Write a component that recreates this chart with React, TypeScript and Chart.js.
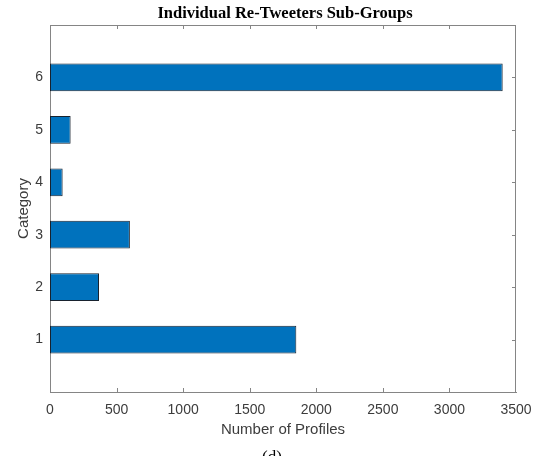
import React, { useEffect, useRef } from 'react';
import { Chart, registerables } from 'chart.js';

Chart.register(...registerables);

const categories = [1, 2, 3, 4, 5, 6];
const profiles = [1850, 368, 600, 95, 155, 3400];
const xTickValues = [0, 500, 1000, 1500, 2000, 2500, 3000, 3500];
const yTickValues = [1, 2, 3, 4, 5, 6];
const titleText = 'Individual Re-Tweeters Sub-Groups';
const xTitle = 'Number of Profiles';
const yTitle = 'Category';
const captionText = '(d)';

const AXIS_COLOR = '#858585';
const TEXT_COLOR = '#3c3c3c';

const boxPlugin = {
  id: 'matlabBox',
  beforeDatasetsDraw(chart: any) {
    const { ctx, chartArea, scales } = chart;
    const { left, right, top, bottom } = chartArea;
    ctx.save();
    ctx.strokeStyle = AXIS_COLOR;
    ctx.lineWidth = 1;
    ctx.beginPath();
    xTickValues.slice(1, -1).forEach((v) => {
      const px = Math.round(scales.x.getPixelForValue(v)) + 0.5;
      ctx.moveTo(px, bottom);
      ctx.lineTo(px, bottom - 4);
      ctx.moveTo(px, top);
      ctx.lineTo(px, top + 4);
    });
    yTickValues.forEach((v) => {
      const py = Math.round(scales.y.getPixelForValue(v)) + 0.5;
      ctx.moveTo(left, py);
      ctx.lineTo(left + 4, py);
      ctx.moveTo(right, py);
      ctx.lineTo(right - 4, py);
    });
    ctx.stroke();
    ctx.restore();
  },
  afterDraw(chart: any) {
    const { ctx, chartArea } = chart;
    const { left, right, top, bottom } = chartArea;
    ctx.save();
    ctx.strokeStyle = AXIS_COLOR;
    ctx.lineWidth = 1;
    ctx.beginPath();
    ctx.moveTo(left, Math.round(top) + 0.5);
    ctx.lineTo(right, Math.round(top) + 0.5);
    ctx.moveTo(Math.round(right) - 0.5, top);
    ctx.lineTo(Math.round(right) - 0.5, bottom);
    ctx.stroke();

    ctx.fillStyle = '#000';
    ctx.font = 'bold 16.5px "Liberation Serif"';
    ctx.textAlign = 'center';
    ctx.textBaseline = 'middle';
    ctx.fillText(titleText, (left + right) / 2 + 2, 14);

    ctx.font = '17px "Liberation Serif"';
    ctx.textBaseline = 'top';
    ctx.fillText(captionText, 272, 449);
    ctx.restore();
  },
};

export default function App() {
  const canvasRef = useRef<HTMLCanvasElement | null>(null);

  useEffect(() => {
    if (!canvasRef.current) return;
    const chart = new Chart(canvasRef.current, {
      type: 'bar',
      data: {
        datasets: [
          {
            data: profiles.map((v, i) => ({ x: v, y: categories[i] })),
            backgroundColor: '#0072BD',
            borderColor: '#18222e',
            borderWidth: 1,
            borderSkipped: false,
            categoryPercentage: 1,
            barPercentage: 0.53,
          },
        ],
      },
      options: {
        indexAxis: 'y',
        animation: false,
        responsive: true,
        maintainAspectRatio: false,
        layout: { padding: { top: 25, right: 23, left: 0, bottom: 0 } },
        plugins: {
          legend: { display: false },
          tooltip: { enabled: false },
          title: { display: false },
        },
        scales: {
          x: {
            type: 'linear',
            position: 'bottom',
            min: 0,
            max: 3500,
            offset: false,
            afterBuildTicks: (s: any) => {
              s.ticks = xTickValues.map((v) => ({ value: v }));
            },
            afterFit: (s: any) => {
              s.height = 64;
              s.paddingRight = 0;
              s.paddingLeft = 0;
            },
            grid: { display: false, drawTicks: false },
            border: { display: true, color: AXIS_COLOR, width: 1 },
            ticks: {
              color: TEXT_COLOR,
              font: { family: '"Liberation Sans", Arial', size: 14 },
              padding: 10,
              maxRotation: 0,
              autoSkip: false,
              callback: (v: any) => String(v),
            },
            title: {
              display: true,
              text: xTitle,
              color: TEXT_COLOR,
              font: { family: '"Liberation Sans", Arial', size: 15 },
              padding: { top: 0, bottom: 17 },
            },
          },
          y: {
            type: 'linear',
            position: 'left',
            min: 0,
            max: 7,
            offset: false,
            afterBuildTicks: (s: any) => {
              s.ticks = yTickValues.map((v) => ({ value: v }));
            },
            afterFit: (s: any) => {
              s.width = 50;
              s.paddingTop = 0;
              s.paddingBottom = 0;
            },
            grid: { display: false, drawTicks: false },
            border: { display: true, color: AXIS_COLOR, width: 1 },
            ticks: {
              color: TEXT_COLOR,
              font: { family: '"Liberation Sans", Arial', size: 14 },
              padding: 7,
              autoSkip: false,
              callback: (v: any) => String(v),
            },
            title: {
              display: true,
              text: yTitle,
              color: TEXT_COLOR,
              font: { family: '"Liberation Sans", Arial', size: 15 },
              padding: { top: 15, bottom: 0 },
            },
          },
        },
      },
      plugins: [boxPlugin],
    } as any);
    return () => chart.destroy();
  }, []);

  return (
    <div style={{ position: 'fixed', left: 0, top: 0, width: 539, height: 456, background: '#fff' }}>
      <canvas ref={canvasRef} />
    </div>
  );
}
